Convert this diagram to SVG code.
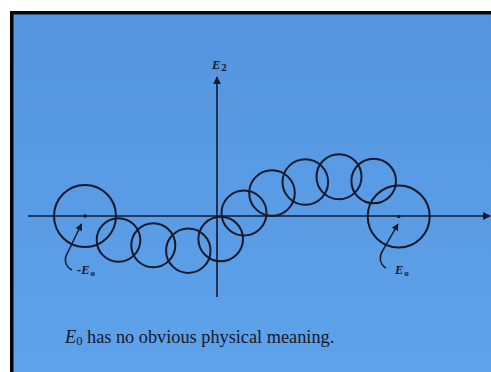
<svg xmlns="http://www.w3.org/2000/svg" width="491" height="372" viewBox="0 0 491 372">
<style>
.c{fill:none;stroke:#15192a;stroke-width:2}
.ax{fill:none;stroke:#15192a;stroke-width:1.6}
.ptr{fill:none;stroke:#15192a;stroke-width:1.5}
.lbl{font-family:"Liberation Serif",serif;font-style:italic;font-weight:bold;fill:#15192a}
.cap{font-family:"Liberation Serif",serif;fill:#15192a}
</style>
<defs>
<marker id="ah" viewBox="0 0 10 10" refX="9" refY="5" markerWidth="8" markerHeight="8" orient="auto" markerUnits="userSpaceOnUse">
<path d="M0,0 L10,5 L0,10 Z" fill="#15192a"/>
</marker>
<marker id="ah2" viewBox="0 0 10 10" refX="9" refY="5" markerWidth="7" markerHeight="7" orient="auto" markerUnits="userSpaceOnUse">
<path d="M0,0 L10,5 L0,10 Z" fill="#15192a"/>
</marker>
<linearGradient id="bg" x1="0" y1="0" x2="0" y2="1">
<stop offset="0" stop-color="#5595df"/>
<stop offset="1" stop-color="#5da2ea"/>
</linearGradient>
</defs>
<rect x="0" y="0" width="491" height="372" fill="#ffffff"/>
<rect x="10" y="11" width="481" height="361" fill="#05060a"/>
<rect x="13.5" y="14.5" width="477.5" height="357.5" fill="url(#bg)"/>
<g id="connectors">
<line class="ax" x1="28" y1="216" x2="490" y2="216" marker-end="url(#ah)"/>
<line class="ax" x1="217" y1="297" x2="217" y2="77" marker-end="url(#ah)"/>
<path class="ptr" d="M72,270 C64,266 64,258 68,252 L81.5,224" marker-end="url(#ah2)"/>
<path class="ptr" d="M386,268 C379,264 379,256 383,250 L398,224" marker-end="url(#ah2)"/>
</g>
<g id="circles">
<circle class="c" cx="85" cy="216" r="31"/>
<circle class="c" cx="118.5" cy="240" r="21.8"/>
<circle class="c" cx="153.3" cy="245.3" r="22"/>
<circle class="c" cx="188.3" cy="250.7" r="22.2"/>
<circle class="c" cx="220.7" cy="239" r="22.3"/>
<circle class="c" cx="244" cy="213" r="22.5"/>
<circle class="c" cx="272" cy="193" r="22.8"/>
<circle class="c" cx="305.3" cy="182" r="22.8"/>
<circle class="c" cx="339" cy="176.7" r="22.5"/>
<circle class="c" cx="373.7" cy="181" r="22.3"/>
<circle class="c" cx="398.7" cy="216.5" r="31"/>
<circle cx="85" cy="216" r="1.8" fill="#15192a"/>
<circle cx="398.7" cy="216.5" r="1.8" fill="#15192a"/>
</g>
<g id="label-E2"><text class="lbl" x="212" y="69" font-size="12.5">E<tspan dx="1" dy="2" font-size="11" font-style="normal">2</tspan></text></g>
<g id="label-negE0"><text class="lbl" x="77" y="274" font-size="12.5">-E<tspan dx="1" dy="2" font-size="9" font-style="normal">o</tspan></text></g>
<g id="label-E0"><text class="lbl" x="395" y="274" font-size="12.5">E<tspan dx="1" dy="2" font-size="9" font-style="normal">o</tspan></text></g>
<g id="caption"><text class="cap" x="65" y="343" font-size="18.3"><tspan font-style="italic">E</tspan><tspan font-size="12.5" dy="2">0</tspan><tspan dy="-2"> has no obvious physical meaning.</tspan></text></g>
</svg>
